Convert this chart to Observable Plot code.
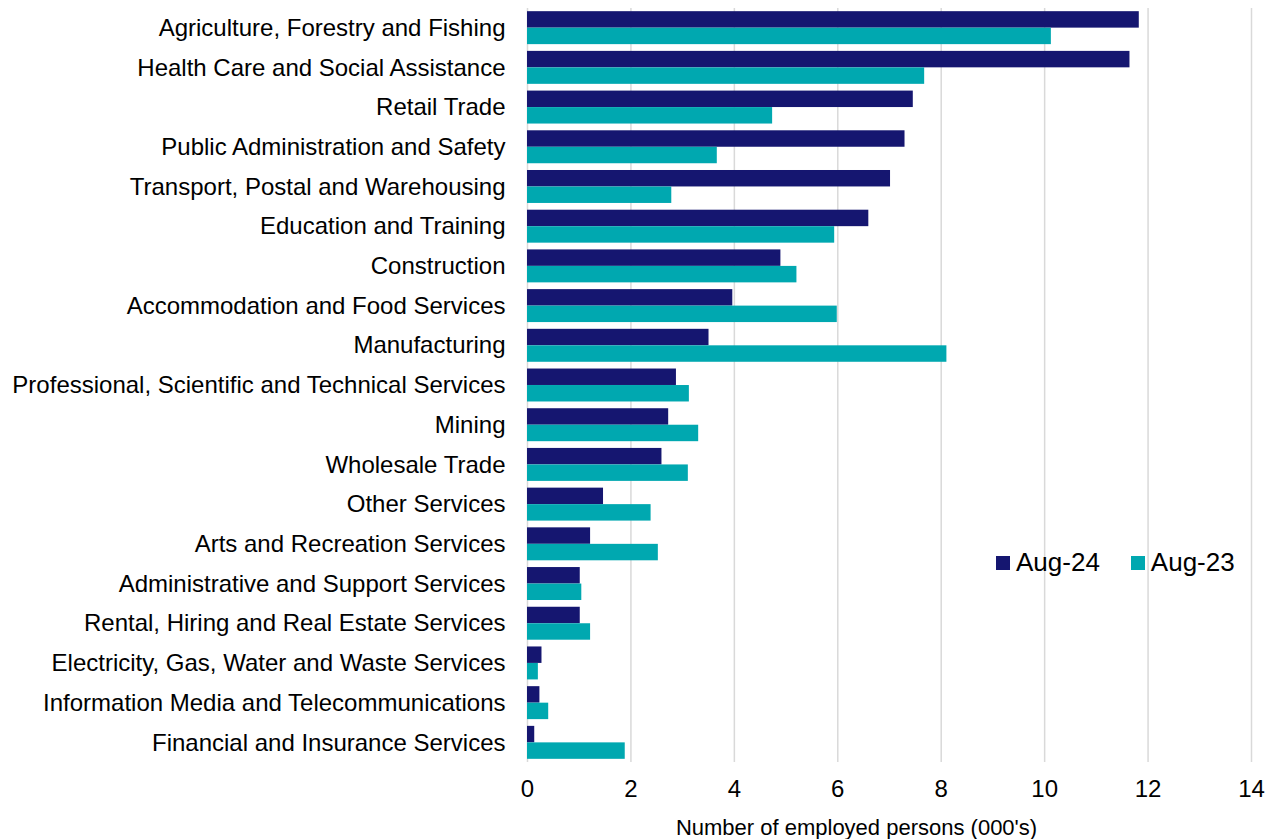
<!DOCTYPE html>
<html>
<head>
<meta charset="utf-8">
<script src="https://cdn.jsdelivr.net/npm/d3@7"></script>
<script src="https://cdn.jsdelivr.net/npm/@observablehq/plot@0.6"></script>
<style>
  html, body { margin: 0; padding: 0; background: #fff; }
  #wrap { position: relative; width: 1276px; height: 839px; font-family: "Liberation Sans", Arial, sans-serif; }
  #legend { position: absolute; left: 996px; top: 547px; display: flex; align-items: center; font-size: 26px; color: #000; }
  #legend .item { display: flex; align-items: center; margin-right: 31px; }
  #legend .sw { width: 14px; height: 14px; margin-right: 6px; }
</style>
</head>
<body>
<div id="wrap"></div>
<script>
const categories = [
  "Agriculture, Forestry and Fishing",
  "Health Care and Social Assistance",
  "Retail Trade",
  "Public Administration and Safety",
  "Transport, Postal and Warehousing",
  "Education and Training",
  "Construction",
  "Accommodation and Food Services",
  "Manufacturing",
  "Professional, Scientific and Technical Services",
  "Mining",
  "Wholesale Trade",
  "Other Services",
  "Arts and Recreation Services",
  "Administrative and Support Services",
  "Rental, Hiring and Real Estate Services",
  "Electricity, Gas, Water and Waste Services",
  "Information Media and Telecommunications",
  "Financial and Insurance Services"
];
const aug24 = [11.83, 11.65, 7.46, 7.30, 7.02, 6.60, 4.90, 3.97, 3.51, 2.88, 2.73, 2.60, 1.47, 1.22, 1.02, 1.02, 0.28, 0.24, 0.14];
const aug23 = [10.13, 7.68, 4.74, 3.67, 2.79, 5.94, 5.21, 5.99, 8.11, 3.13, 3.31, 3.11, 2.39, 2.53, 1.05, 1.22, 0.21, 0.41, 1.89];
const seriesNames = ["Aug-24", "Aug-23"];
const seriesColors = ["#151670", "#00A8B0"];
const xTicks = [0, 2, 4, 6, 8, 10, 12, 14];
const xLabel = "Number of employed persons (000's)";

const rows24 = categories.map((c, i) => ({category: c, value: aug24[i]}));
const rows23 = categories.map((c, i) => ({category: c, value: aug23[i]}));

const half = 16.5;

const chart = Plot.plot({
  width: 1276,
  height: 839,
  marginLeft: 527,
  marginRight: 25,
  marginTop: 8,
  marginBottom: 77,
  style: {fontFamily: "'Liberation Sans', Arial, sans-serif", fontSize: "24px", color: "#000", background: "#fff"},
  x: {domain: [0, 14], ticks: xTicks},
  y: {domain: categories, paddingInner: 0.17, paddingOuter: 0.08, round: false},
  marks: [
    Plot.ruleX(xTicks, {stroke: "#d9d9d9", strokeWidth: 1.5}),
    Plot.barX(rows24, {x: "value", y: "category", fill: seriesColors[0], insetBottom: half}),
    Plot.barX(rows23, {x: "value", y: "category", fill: seriesColors[1], insetTop: half}),
    Plot.axisY({tickSize: 0, tickPadding: 22, label: null, fontSize: 24}),
    Plot.axisX({ticks: xTicks, tickSize: 0, tickPadding: 17, fontSize: 24, label: xLabel, labelAnchor: "center", labelArrow: "none", labelOffset: 72})
  ]
});
document.getElementById("wrap").appendChild(chart);

const lbl = d3.select(chart).select('g[aria-label="x-axis label"] text');
if (!lbl.empty()) {
  const tr = lbl.attr("transform") || "";
  lbl.attr("font-size", 22).attr("transform", (tr + " translate(-33,0)").trim());
}

const legend = document.createElement("div");
legend.id = "legend";
seriesNames.forEach((n, i) => {
  const it = document.createElement("div");
  it.className = "item";
  const sw = document.createElement("div");
  sw.className = "sw";
  sw.style.background = seriesColors[i];
  const t = document.createElement("span");
  t.textContent = n;
  it.appendChild(sw); it.appendChild(t);
  legend.appendChild(it);
});
document.getElementById("wrap").appendChild(legend);
</script>
</body>
</html>
